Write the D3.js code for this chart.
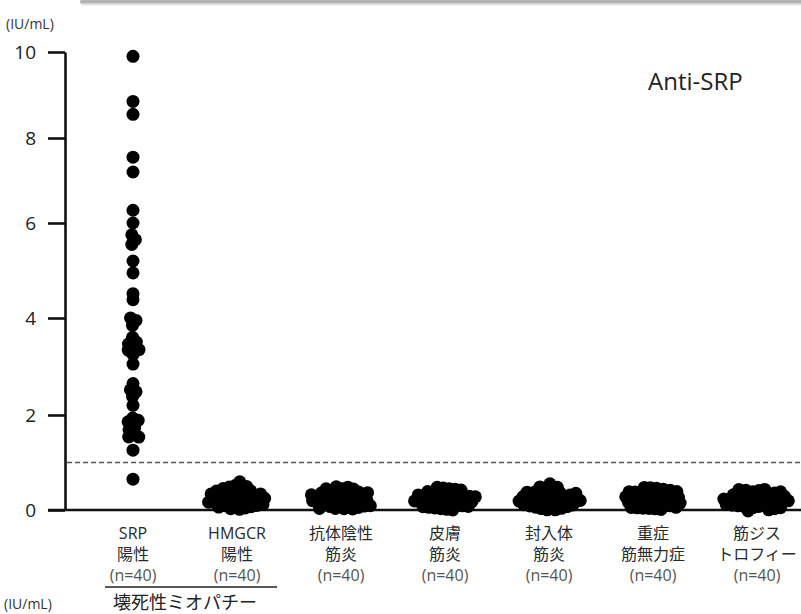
<!DOCTYPE html>
<html>
<head>
<meta charset="utf-8">
<script src="https://cdn.jsdelivr.net/npm/d3@7"></script>
<style>
  body { margin: 0; background: #fff; }
  svg { display: block; font-family: "Open Sans", "Noto Sans CJK JP", sans-serif; }
</style>
</head>
<body>
<div id="chart"></div>
<script>
const width = 801;
const height = 614;

// categories and their label lines
const categories = ['SRP陽性', 'HMGCR陽性', '抗体陰性筋炎', '皮膚筋炎', '封入体筋炎', '重症筋無力症', '筋ジストロフィー'];
const labelTop = ['SRP', 'HMGCR', '抗体陰性', '皮膚', '封入体', '重症', '筋ジス'];
const labelBottom = ['陽性', '陽性', '筋炎', '筋炎', '筋炎', '筋無力症', 'トロフィー'];
const counts = [40, 40, 40, 40, 40, 40, 40];

// y ticks (the original axis is not evenly spaced)
const yTicks = [0, 2, 4, 6, 8, 10];
const cutoff = 1.0;

// anti-SRP values (IU/mL) per group
const srp = [9.9, 8.85, 8.55, 7.55, 7.2, 6.3, 6.0, 5.75, 5.65, 5.55,
  5.2, 4.95, 4.5, 4.4, 3.95, 4.0, 3.85, 3.6, 3.5, 3.4,
  3.35, 3.35, 3.25, 3.05, 2.65, 2.48, 2.52, 2.38, 2.2, 1.89,
  1.93, 1.86, 1.68, 1.72, 1.61, 1.54, 1.54, 1.26, 0.65, 3.45];
const hmgcr = [0.56, 0.26, 0.49, 0.13, 0.47, 0.21, 0.44, 0.15, 0.42, 0.30,
  0.41, 0.11, 0.39, 0.18, 0.38, 0.24, 0.36, 0.12, 0.35, 0.28,
  0.34, 0.16, 0.33, 0.20, 0.31, 0.10, 0.29, 0.23, 0.27, 0.14,
  0.26, 0.19, 0.25, 0.12, 0.22, 0.17, 0.18, 0.13, 0.15, 0.11];
const seroneg = [0.42, 0.18, 0.41, 0.12, 0.39, 0.27, 0.38, 0.15, 0.37, 0.22,
  0.36, 0.11, 0.35, 0.30, 0.33, 0.14, 0.32, 0.20, 0.31, 0.13,
  0.30, 0.24, 0.29, 0.16, 0.28, 0.10, 0.27, 0.19, 0.26, 0.12,
  0.25, 0.17, 0.24, 0.14, 0.23, 0.21, 0.20, 0.11, 0.16, 0.13];
const dm = [0.42, 0.17, 0.40, 0.12, 0.39, 0.25, 0.38, 0.14, 0.36, 0.21,
  0.35, 0.11, 0.34, 0.29, 0.33, 0.15, 0.31, 0.19, 0.30, 0.12,
  0.29, 0.23, 0.28, 0.16, 0.27, 0.10, 0.26, 0.18, 0.24, 0.13,
  0.23, 0.15, 0.22, 0.11, 0.21, 0.20, 0.19, 0.12, 0.16, 0.14];
const ibm = [0.55, 0.16, 0.47, 0.12, 0.44, 0.24, 0.40, 0.14, 0.38, 0.21,
  0.37, 0.11, 0.35, 0.28, 0.33, 0.15, 0.32, 0.19, 0.30, 0.12,
  0.29, 0.23, 0.27, 0.16, 0.26, 0.10, 0.25, 0.18, 0.24, 0.13,
  0.22, 0.15, 0.21, 0.11, 0.20, 0.19, 0.18, 0.12, 0.16, 0.14];
const mg = [0.40, 0.18, 0.39, 0.12, 0.38, 0.27, 0.37, 0.15, 0.36, 0.22,
  0.35, 0.11, 0.34, 0.30, 0.33, 0.14, 0.32, 0.20, 0.31, 0.13,
  0.30, 0.24, 0.29, 0.16, 0.28, 0.10, 0.27, 0.19, 0.26, 0.12,
  0.25, 0.17, 0.24, 0.14, 0.23, 0.21, 0.20, 0.11, 0.16, 0.13];
const md = [0.32, 0.18, 0.31, 0.12, 0.31, 0.26, 0.30, 0.15, 0.30, 0.22,
  0.29, 0.11, 0.29, 0.27, 0.28, 0.14, 0.28, 0.20, 0.27, 0.13,
  0.27, 0.24, 0.26, 0.16, 0.25, 0.10, 0.25, 0.19, 0.24, 0.12,
  0.23, 0.17, 0.22, 0.14, 0.21, 0.21, 0.20, 0.11, 0.16, 0.13];
const groups = [srp, hmgcr, seroneg, dm, ibm, mg, md];

const svg = d3.select('#chart')
  .append('svg')
  .attr('width', width)
  .attr('height', height);

// faint shadow of the box above the chart
const grad = svg.append('defs').append('linearGradient')
  .attr('id', 'shade').attr('x1', 0).attr('x2', 0).attr('y1', 0).attr('y2', 1);
grad.append('stop').attr('offset', '0%').attr('stop-color', '#dcdcdc');
grad.append('stop').attr('offset', '45%').attr('stop-color', '#a9a9a9');
grad.append('stop').attr('offset', '100%').attr('stop-color', '#fff');
svg.append('rect')
  .attr('x', 80).attr('y', -2).attr('width', 740).attr('height', 8)
  .attr('rx', 5)
  .attr('fill', 'url(#shade)');

const x = d3.scalePoint()
  .domain(categories)
  .range([133, 757]);

const y = d3.scaleLinear()
  .domain(yTicks)
  .range([510, 415, 318, 223, 138, 52]);

// y axis
const yAxis = svg.append('g')
  .attr('transform', 'translate(65,0)')
  .call(d3.axisLeft(y).tickValues(yTicks).tickSize(17).tickSizeOuter(0).tickPadding(12).tickFormat(d3.format('d')));
yAxis.select('.domain').attr('stroke', '#111').attr('stroke-width', 2.6);
yAxis.selectAll('.tick line').attr('stroke', '#111').attr('stroke-width', 2.6);
yAxis.selectAll('.tick text')
  .attr('fill', '#222')
  .style('font-size', '19px')
  .style('font-family', '"Open Sans", sans-serif');

// x axis line
svg.append('line')
  .attr('x1', 48).attr('x2', width)
  .attr('y1', y(0)).attr('y2', y(0))
  .attr('stroke', '#111').attr('stroke-width', 2.6);

// cutoff line
svg.append('line')
  .attr('x1', 67).attr('x2', width)
  .attr('y1', y(cutoff)).attr('y2', y(cutoff))
  .attr('stroke', '#555').attr('stroke-width', 1.6)
  .attr('stroke-dasharray', '5,3');

// beeswarm layout
const nodes = [];
groups.forEach((vals, i) => {
  vals.forEach(v => nodes.push({ cat: categories[i], v: v, x: x(categories[i]), y: y(v) }));
});
const sim = d3.forceSimulation(nodes)
  .force('x', d3.forceX(d => x(d.cat)).strength(0.05))
  .force('y', d3.forceY(d => y(d.v)).strength(1))
  .force('collide', d3.forceCollide(3))
  .stop();
for (let i = 0; i < 300; i++) sim.tick();

svg.append('g')
  .selectAll('circle')
  .data(nodes)
  .enter()
  .append('circle')
    .attr('cx', d => d.x)
    .attr('cy', d => d.y)
    .attr('r', 6.5)
    .attr('fill', '#000');

// category labels
const labels = svg.append('g')
  .selectAll('g')
  .data(categories)
  .enter()
  .append('g')
    .attr('transform', d => 'translate(' + x(d) + ',0)')
    .attr('text-anchor', 'middle')
    .style('font-size', '16px');
labels.append('text').attr('y', 539).attr('fill', '#2a2a2a').text((d, i) => labelTop[i]);
labels.append('text').attr('y', 560).attr('fill', '#2a2a2a').text((d, i) => labelBottom[i]);
labels.append('text').attr('y', 581).attr('fill', '#555').text((d, i) => '(n=' + counts[i] + ')');

// bracket for necrotizing myopathy
svg.append('line')
  .attr('x1', 105).attr('x2', 277)
  .attr('y1', 587).attr('y2', 587)
  .attr('stroke', '#222').attr('stroke-width', 1.5);
svg.append('text')
  .attr('x', 113).attr('y', 609)
  .attr('fill', '#222')
  .style('font-size', '18px')
  .text('壊死性ミオパチー');

// unit labels
svg.append('text')
  .attr('x', 6).attr('y', 29)
  .attr('fill', '#333')
  .style('font-size', '14px')
  .text('(IU/mL)');
svg.append('text')
  .attr('x', 4).attr('y', 609)
  .attr('fill', '#333')
  .style('font-size', '14px')
  .text('(IU/mL)');

// title
svg.append('text')
  .attr('x', 648).attr('y', 90)
  .attr('fill', '#222')
  .style('font-size', '24px')
  .text('Anti-SRP');
</script>
</body>
</html>
